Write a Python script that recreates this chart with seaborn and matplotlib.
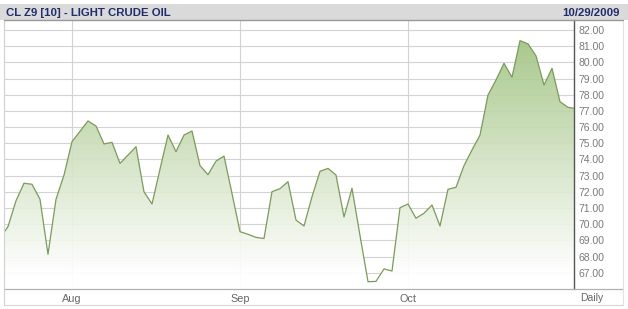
import numpy as np
import pandas as pd
import matplotlib
matplotlib.use("Agg")
import matplotlib.pyplot as plt
from matplotlib.colors import LinearSegmentedColormap
from matplotlib.patches import Rectangle
from matplotlib.lines import Line2D
import seaborn as sns

# ---- data ----
title = "CL Z9 [10] - LIGHT CRUDE OIL"
date_label = "10/29/2009"
period_label = "Daily"
trading_days = pd.bdate_range("2009-07-21", "2009-10-30", freq="C", holidays=["2009-09-07"])
prices = [
    69.15, 69.85, 71.45, 72.53, 72.47, 71.54, 68.14, 71.54, 73.04, 75.10,
    75.74, 76.38, 76.07, 74.96, 75.06, 73.76, 74.27, 74.79, 72.00, 71.25,
    73.40, 75.51, 74.48, 75.51, 75.76, 73.62, 73.06, 73.90, 74.21, 71.90,
    69.54, 69.38, 69.19, 69.12, 72.01, 72.20, 72.63, 70.26, 69.89, 71.70,
    73.27, 73.45, 73.04, 70.45, 72.22, 69.30, 66.45, 66.47, 67.24, 67.11,
    71.02, 71.25, 70.37, 70.68, 71.19, 69.89, 72.16, 72.28, 73.62, 74.59,
    75.51, 77.98, 78.91, 79.94, 79.08, 81.34, 81.14, 80.40, 78.60, 79.63,
    77.57, 77.22, 77.15,
]
price_ticks = list(range(67, 83))

df = pd.DataFrame({"day": np.arange(len(prices)), "price": prices, "date": trading_days[:len(prices)]})
month_first = df.groupby(df["date"].dt.to_period("M"))["day"].min()
month_pos = [int(v) for k, v in month_first.items() if v > 0]
month_lab = [df.loc[p, "date"].strftime("%b") for p in month_pos]

# ---- figure ----
sns.set_theme(style="white")
plt.rcParams["font.family"] = ["Liberation Sans", "DejaVu Sans"]

W, H = 628, 309
fig = plt.figure(figsize=(W / 100, H / 100), dpi=100)
fig.patch.set_facecolor("white")

def fx(x):
    return x / W

def fy(y):
    return 1 - y / H

# header band
fig.add_artist(Rectangle((0, fy(20)), 1, fy(4) - fy(20), transform=fig.transFigure,
                         facecolor="#dadada", edgecolor="none", zorder=0))
fig.text(fx(6), fy(13.5), title, ha="left", va="center", fontsize=8.2, fontweight="bold", color="#1f2d6b")
fig.text(fx(620), fy(13.5), date_label, ha="right", va="center", fontsize=8.2, fontweight="bold", color="#1f2d6b")

# frame lines around the whole chart
fig.add_artist(Line2D([fx(4), fx(623)], [fy(305), fy(305)], transform=fig.transFigure, color="#d6d6d6", lw=0.8))
fig.add_artist(Line2D([fx(4), fx(623)], [fy(289), fy(289)], transform=fig.transFigure, color="#b0b0b0", lw=0.9))
fig.add_artist(Line2D([fx(4), fx(4)], [fy(20), fy(305)], transform=fig.transFigure, color="#d0d0d0", lw=0.8))
fig.add_artist(Line2D([fx(623), fx(623)], [fy(20), fy(305)], transform=fig.transFigure, color="#e2e2e2", lw=0.8))
fig.add_artist(Line2D([fx(4), fx(623)], [fy(20), fy(20)], transform=fig.transFigure, color="#999999", lw=1.0))

ax = fig.add_axes([fx(4), fy(289), fx(574) - fx(4), fy(20) - fy(289)])
ax.set_facecolor("white")

y_lo = 66.0
y_hi = 66.0 + 269 / 16.19
x_lo, x_hi = 0.5, 0.5 + 570 / 8.0
ax.set_xlim(x_lo, x_hi)
ax.set_ylim(y_lo, y_hi)

# gridlines
for t in price_ticks:
    ax.axhline(t, color="#d3d3d3", lw=0.8, zorder=0)
for p in month_pos:
    ax.axvline(p, color="#d3d3d3", lw=0.8, zorder=0)

# gradient fill under the curve
poly = ax.fill_between(df["day"], df["price"], y_lo, facecolor="none", edgecolor="none")
cmap = LinearSegmentedColormap.from_list("g", [(0.0, "#ffffff"), (0.06, "#ffffff"), (1.0, "#9bbf79")])
grad = np.linspace(0, 1, 256).reshape(-1, 1)
img = ax.imshow(grad, extent=[x_lo, x_hi, y_lo, y_hi], origin="lower", aspect="auto",
                cmap=cmap, zorder=1, alpha=0.92)
img.set_clip_path(poly.get_paths()[0], transform=ax.transData)

sns.lineplot(data=df, x="day", y="price", color="#7b9a5c", lw=0.9, ax=ax, zorder=3)

# axes styling
ax.yaxis.tick_right()
ax.set_yticks(price_ticks)
ax.set_yticklabels([f"{t:.2f}" for t in price_ticks])
ax.set_xticks(month_pos)
ax.set_xticklabels(month_lab)
ax.tick_params(axis="y", length=0, pad=3, labelsize=7.5, labelcolor="#7a7a7a")
ax.tick_params(axis="x", length=0, pad=3.5, labelsize=7.8, labelcolor="#666666")
ax.set_xlabel("")
ax.set_ylabel("")
for side in ["left", "top", "bottom"]:
    ax.spines[side].set_visible(False)
ax.spines["right"].set_color("#555555")
ax.spines["right"].set_linewidth(1.0)

fig.text(fx(592), fy(298), period_label, ha="center", va="center", fontsize=7.5, color="#666666")

fig.savefig("out.png", dpi=100, facecolor="white")
